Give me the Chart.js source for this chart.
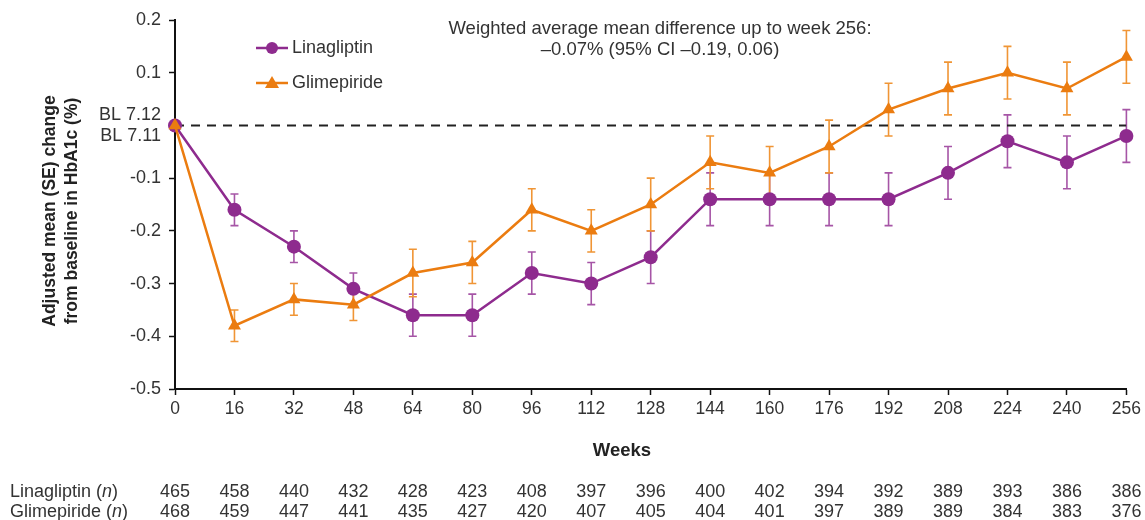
<!DOCTYPE html>
<html><head><meta charset="utf-8">
<script src="https://cdn.jsdelivr.net/npm/chart.js@4.4.0/dist/chart.umd.min.js"></script>
<style>html,body{margin:0;padding:0;background:#fff}#wrap{width:1145px;height:520px;position:relative}</style>
</head><body><div id="wrap"><canvas id="c" width="1145" height="520"></canvas></div>
<script>
const weeks = [0,16,32,48,64,80,96,112,128,144,160,176,192,208,224,240,256];
const linaMean = [0,-0.16,-0.23,-0.31,-0.36,-0.36,-0.28,-0.30,-0.25,-0.14,-0.14,-0.14,-0.14,-0.09,-0.03,-0.07,-0.02];
const linaSE   = [0,0.03,0.03,0.03,0.04,0.04,0.04,0.04,0.05,0.05,0.05,0.05,0.05,0.05,0.05,0.05,0.05];
const glimMean = [0,-0.38,-0.33,-0.34,-0.28,-0.26,-0.16,-0.20,-0.15,-0.07,-0.09,-0.04,0.03,0.07,0.10,0.07,0.13];
const glimSE   = [0,0.03,0.03,0.03,0.045,0.04,0.04,0.04,0.05,0.05,0.05,0.05,0.05,0.05,0.05,0.05,0.05];
const linaN = [465,458,440,432,428,423,408,397,396,400,402,394,392,389,393,386,386];
const glimN = [468,459,447,441,435,427,420,407,405,404,401,397,389,389,384,383,376];
const baselineLabels = ['BL 7.12','BL 7.11'];
const seriesNames = ['Linagliptin','Glimepiride'];
const annotationLines = ['Weighted average mean difference up to week 256:','\u20130.07% (95% CI \u20130.19, 0.06)'];
const yTitleLines = ['Adjusted mean (SE) change','from baseline in HbA1c (%)'];

const PURPLE='#8E2B8E', PURPLE_L='#A655A6', ORANGE='#EB7C10', ORANGE_L='#F09535';
const FONT='"Liberation Sans", Arial, sans-serif';
const TXT='#333';

const pts = (m)=>weeks.map((w,i)=>({x:w,y:m[i]}));

const errorBars = {
  id:'errorBars',
  beforeDatasetsDraw(chart){
    const {ctx, scales:{x,y}} = chart;
    const sets=[[linaMean,linaSE,PURPLE_L],[glimMean,glimSE,ORANGE_L]];
    ctx.save();
    ctx.lineWidth=1.6;
    sets.forEach(([m,se,col])=>{
      ctx.strokeStyle=col;
      weeks.forEach((w,i)=>{
        if(!se[i]) return;
        const px=x.getPixelForValue(w), t=y.getPixelForValue(m[i]+se[i]), b=y.getPixelForValue(m[i]-se[i]);
        ctx.beginPath();
        ctx.moveTo(px,t);ctx.lineTo(px,b);
        ctx.moveTo(px-4,t);ctx.lineTo(px+4,t);
        ctx.moveTo(px-4,b);ctx.lineTo(px+4,b);
        ctx.stroke();
      });
    });
    ctx.restore();
  }
};

const extras = {
  id:'extras',
  afterDraw(chart){
    const {ctx, scales:{x}} = chart;
    ctx.save();
    // legend
    const leg=[[PURPLE,'circle',48],[ORANGE,'triangle',83]];
    leg.forEach(([col,shape,yy],i)=>{
      ctx.strokeStyle=col;ctx.lineWidth=2.5;
      ctx.beginPath();ctx.moveTo(256,yy);ctx.lineTo(288,yy);ctx.stroke();
      ctx.fillStyle=col;
      ctx.beginPath();
      if(shape==='circle'){ctx.arc(272,yy,6,0,Math.PI*2);}
      else {ctx.moveTo(272,yy-7);ctx.lineTo(279,yy+5);ctx.lineTo(265,yy+5);ctx.closePath();}
      ctx.fill();
      ctx.fillStyle=TXT;ctx.font='18px '+FONT;ctx.textAlign='left';ctx.textBaseline='middle';
      ctx.fillText(seriesNames[i],292,yy);
    });
    // annotation
    ctx.fillStyle=TXT;ctx.font='18.5px '+FONT;ctx.textAlign='center';ctx.textBaseline='middle';
    ctx.fillText(annotationLines[0],660,29);
    ctx.fillText(annotationLines[1],660,50);
    // y title
    ctx.save();
    ctx.translate(50,211);ctx.rotate(-Math.PI/2);
    ctx.font='bold 17.5px '+FONT;ctx.fillStyle='#222';
    ctx.fillText(yTitleLines[0],0,0);
    ctx.fillText(yTitleLines[1],0,22);
    ctx.restore();
    // x title
    ctx.font='bold 18.5px '+FONT;ctx.fillStyle='#222';
    ctx.fillText('Weeks',622,451);
    // n table
    const rows=[[seriesNames[0],linaN,492],[seriesNames[1],glimN,512]];
    rows.forEach(([name,vals,yy])=>{
      ctx.textAlign='left';ctx.fillStyle=TXT;
      let cx=10;
      ctx.font='18px '+FONT;
      const a=name+' (';
      ctx.fillText(a,cx,yy);cx+=ctx.measureText(a).width;
      ctx.font='italic 18px '+FONT;
      ctx.fillText('n',cx,yy);cx+=ctx.measureText('n').width;
      ctx.font='18px '+FONT;
      ctx.fillText(')',cx,yy);
      ctx.textAlign='center';
      vals.forEach((v,i)=>ctx.fillText(String(v),x.getPixelForValue(weeks[i]),yy));
    });
    ctx.restore();
  }
};

new Chart(document.getElementById('c'),{
  type:'line',
  data:{datasets:[
    {label:'baseline',data:[{x:0,y:0},{x:256,y:0}],borderColor:'#222',borderWidth:2,borderDash:[9,7],pointRadius:0,order:3},
    {label:seriesNames[0],data:pts(linaMean),borderColor:PURPLE,backgroundColor:PURPLE,borderWidth:2.5,pointStyle:'circle',pointRadius:7,pointBorderWidth:0,order:2,clip:false},
    {label:seriesNames[1],data:pts(glimMean),borderColor:ORANGE,backgroundColor:ORANGE,borderWidth:2.5,pointStyle:'triangle',pointRadius:7.5,pointBorderWidth:0,order:1,clip:false}
  ]},
  options:{
    responsive:false,animation:false,
    layout:{padding:{left:0,right:17,top:20,bottom:0}},
    plugins:{legend:{display:false},tooltip:{enabled:false}},
    scales:{
      x:{type:'linear',min:0,max:256,
        afterFit(s){s.height=131;},
        ticks:{stepSize:16,color:TXT,font:{family:FONT,size:17.5},padding:4,maxRotation:0,autoSkip:false},
        grid:{drawOnChartArea:false,tickLength:6,tickColor:'#111',tickWidth:1.5},
        border:{color:'#111',width:2}},
      y:{type:'linear',min:-0.5,max:0.2,
        afterFit(s){s.width=175;},
        ticks:{stepSize:0.1,color:TXT,font:{family:FONT,size:18,lineHeight:1.15},padding:8,
          callback(v){ if(Math.abs(v)<1e-9) return baselineLabels; return (Math.round(v*10)/10).toFixed(1);} },
        grid:{drawOnChartArea:false,tickLength:6,tickColor:'#111',tickWidth:1.5},
        border:{color:'#111',width:2}}
    }
  },
  plugins:[errorBars,extras]
});
</script></body></html>
